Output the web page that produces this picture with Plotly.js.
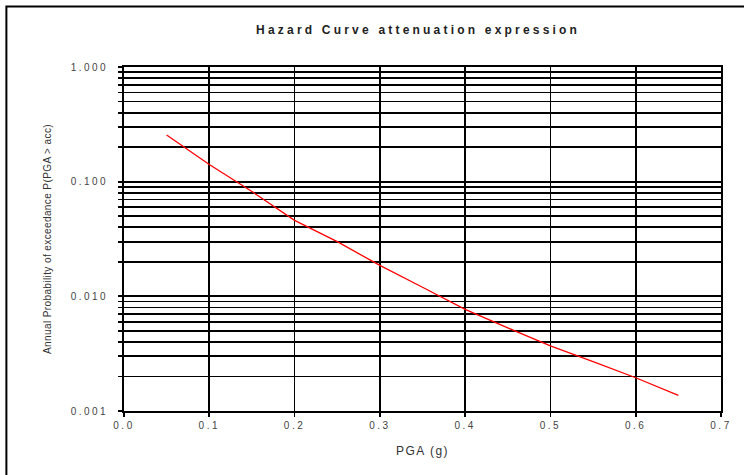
<!DOCTYPE html>
<html>
<head>
<meta charset="utf-8">
<script src="https://cdn.plot.ly/plotly-3.0.1.min.js"></script>
<style>
html,body{margin:0;padding:0;background:#fff;}
#chart{width:744px;height:475px;}
#chart .gtitle{letter-spacing:3.2px;}
#chart .xtick text, #chart .ytick text{letter-spacing:2.5px;}
#chart .xtitle{letter-spacing:1.5px;}
#chart .ytitle{letter-spacing:0.4px;}
</style>
</head>
<body>
<div id="chart"></div>
<script>
const pga = [0.05, 0.10, 0.15, 0.20, 0.25, 0.30, 0.35, 0.40, 0.45, 0.50, 0.55, 0.60, 0.65];
const probExceed = [0.255, 0.141, 0.082, 0.046, 0.030, 0.0186, 0.012, 0.0077, 0.0053, 0.0037, 0.0027, 0.00195, 0.00137];
const xTicks = [0, 0.1, 0.2, 0.3, 0.4, 0.5, 0.6, 0.7];
const xTickLabels = ['0.0', '0.1', '0.2', '0.3', '0.4', '0.5', '0.6', '0.7'];
const yTicks = [1, 0.1, 0.01, 0.001];
const yTickLabels = ['1.000', '0.100', '0.010', '0.001'];

const textFont = {family: 'Liberation Sans, Arial, sans-serif', size: 10, color: '#444'};

Plotly.newPlot('chart', [{
  x: pga, y: probExceed, type: 'scatter', mode: 'lines',
  line: {color: '#ff0000', width: 1.3}, hoverinfo: 'skip'
}], {
  width: 744, height: 475,
  margin: {l: 124, r: 23, t: 67, b: 64},
  paper_bgcolor: '#fff', plot_bgcolor: '#fff',
  showlegend: false,
  title: {text: 'Hazard Curve attenuation expression', x: 0.562, xanchor: 'center', y: 0.937, yanchor: 'middle',
    font: {family: 'Liberation Sans, Arial, sans-serif', size: 12, weight: 'bold', color: '#222'}},
  xaxis: {
    range: [0, 0.7], tickvals: xTicks, ticktext: xTickLabels,
    showgrid: true, gridcolor: '#000', gridwidth: 1.8,
    showline: true, linecolor: '#000', linewidth: 1.8, mirror: true,
    ticks: 'outside', ticklen: 4, tickcolor: '#000', tickwidth: 1.8,
    tickfont: textFont, zeroline: false,
    title: {text: 'PGA (g)', font: {family: 'Liberation Sans, Arial, sans-serif', size: 12, color: '#333'}, standoff: 17}
  },
  yaxis: {
    type: 'log', range: [-3, 0], tickvals: yTicks, ticktext: yTickLabels,
    showgrid: true, gridcolor: '#000', gridwidth: 1.8,
    showline: true, linecolor: '#000', linewidth: 1.8, mirror: true,
    ticks: 'outside', ticklen: 4, tickcolor: '#000', tickwidth: 1.8,
    tickfont: textFont, zeroline: false, ticklabelstandoff: 8,
    minor: {dtick: 'D1', showgrid: true, gridcolor: '#000', gridwidth: 1.8, ticks: 'outside', ticklen: 4, tickcolor: '#000', tickwidth: 1.8},
    title: {text: 'Annual Probability of exceedance P(PGA > acc)', font: {family: 'Liberation Sans, Arial, sans-serif', size: 10, color: '#333'}, standoff: 30}
  },
  shapes: [{type: 'rect', xref: 'paper', yref: 'paper', x0: -0.197, x1: 1.2, y0: -0.3, y1: 1.176,
    line: {color: '#000', width: 2}, fillcolor: 'rgba(0,0,0,0)'}]
}, {displayModeBar: false, staticPlot: true});
</script>
</body>
</html>
